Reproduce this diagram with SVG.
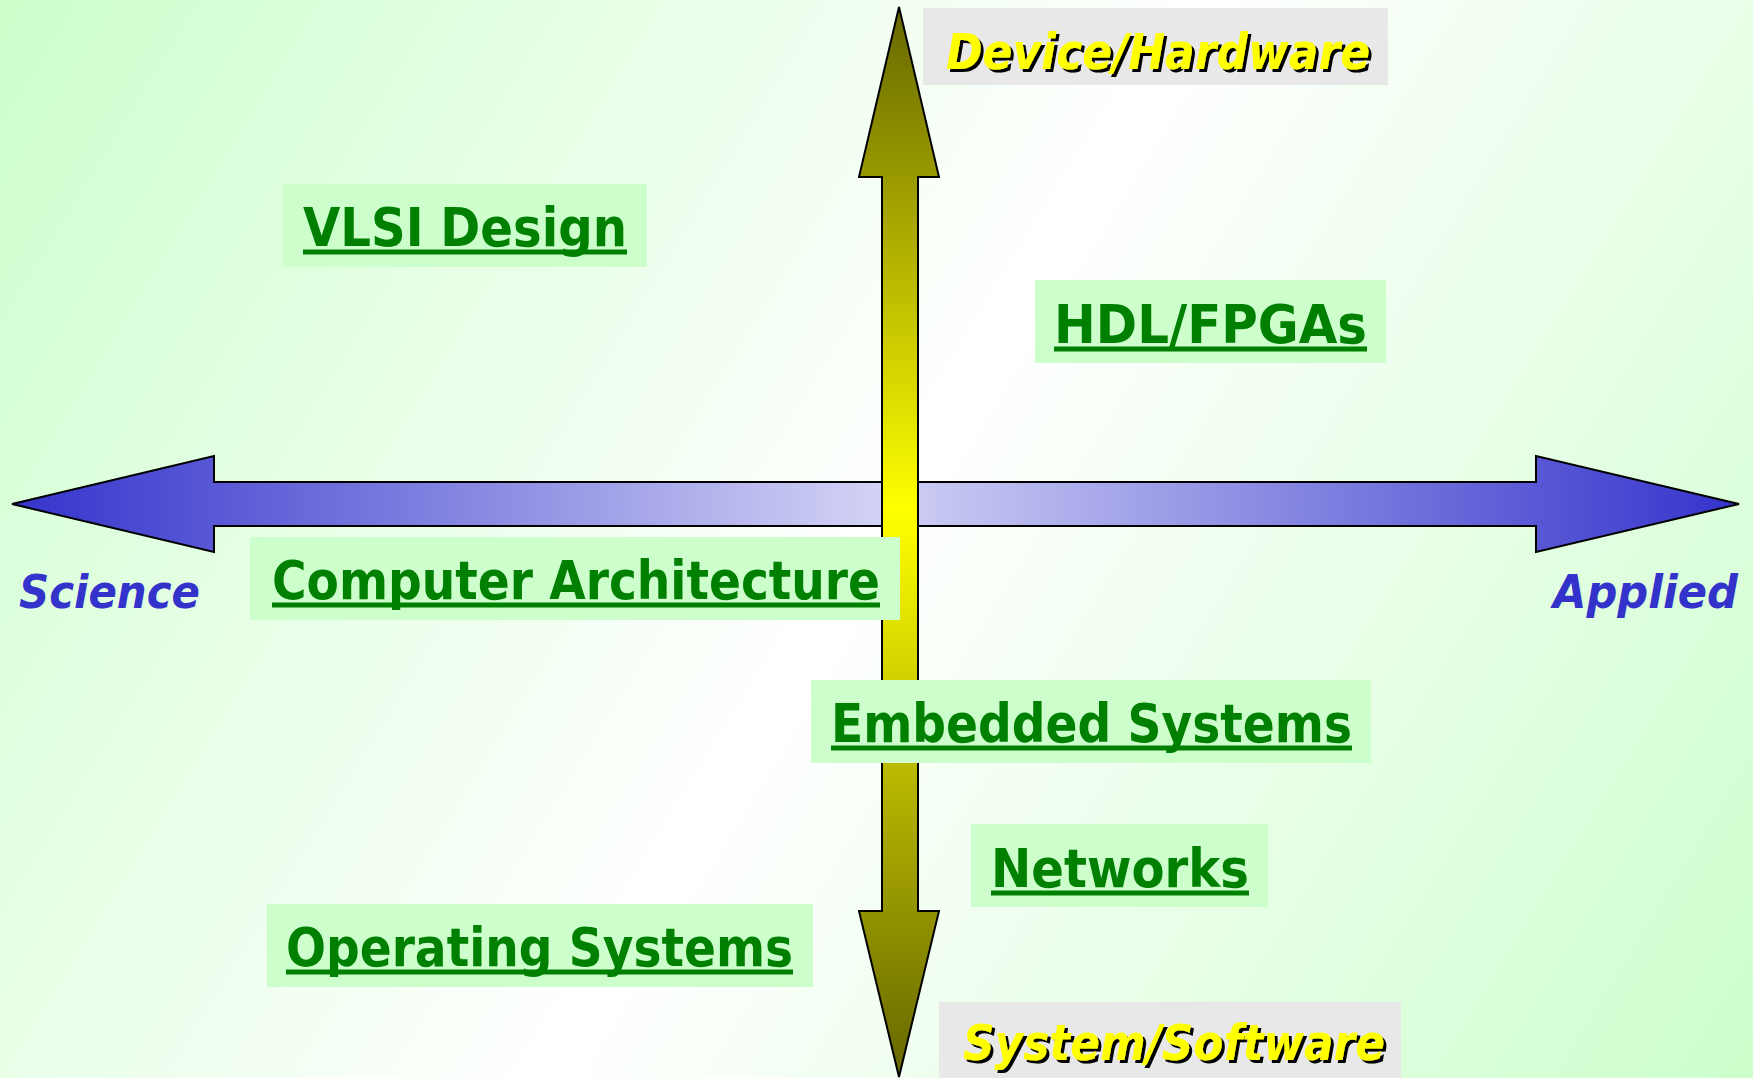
<svg xmlns="http://www.w3.org/2000/svg" width="1753" height="1078" viewBox="0 0 1753 1078">
  <defs>
    <linearGradient id="bg" x1="0" y1="0" x2="1753" y2="1078" gradientUnits="userSpaceOnUse">
      <stop offset="0" stop-color="#ccffcc"/>
      <stop offset="0.5" stop-color="#ffffff"/>
      <stop offset="1" stop-color="#ccffcc"/>
    </linearGradient>
    <linearGradient id="hgrad" x1="12" y1="0" x2="1739" y2="0" gradientUnits="userSpaceOnUse">
      <stop offset="0" stop-color="#3333cc"/>
      <stop offset="0.5" stop-color="#d2d2f5"/>
      <stop offset="1" stop-color="#3333cc"/>
    </linearGradient>
    <linearGradient id="vgrad" x1="0" y1="7" x2="0" y2="1077" gradientUnits="userSpaceOnUse">
      <stop offset="0" stop-color="#666600"/>
      <stop offset="0.47" stop-color="#ffff00"/>
      <stop offset="1" stop-color="#666600"/>
    </linearGradient>
    <filter id="shadow" x="-5%" y="-20%" width="110%" height="150%">
      <feDropShadow dx="3" dy="3" stdDeviation="0" flood-color="#000000" flood-opacity="1"/>
    </filter>
  </defs>
  <style>
    .arrow { stroke: #000000; stroke-width: 2; stroke-linejoin: miter; }
    .box { fill: #ccffcc; }
    .lbl { font-family: "DejaVu Sans", Verdana, sans-serif; font-weight: bold; font-size: 54px; fill: #008000; }
    .ul { stroke: #008000; stroke-width: 5; }
    .axis { font-family: "DejaVu Sans", Verdana, sans-serif; font-weight: bold; font-style: italic; font-size: 46px; fill: #3333cc; }
    .dir { font-family: "DejaVu Sans", Verdana, sans-serif; font-weight: bold; font-style: italic; font-size: 50px; fill: #ffff00; filter: url(#shadow); }
    .gbox { fill: #e8e8e8; }
  </style>

  <rect x="0" y="0" width="1753" height="1078" fill="url(#bg)"/>

  <g id="connectors">
    <polygon id="axis-horizontal" class="arrow" fill="url(#hgrad)" points="12,504 214,456 214,482 1536,482 1536,456 1739,504 1536,552 1536,526 214,526 214,552"/>
    <polygon id="axis-vertical" class="arrow" fill="url(#vgrad)" points="899,7 939,177 918,177 918,911 939,911 899,1077 859,911 882,911 882,177 859,177"/>
  </g>

  <g id="label-science">
    <text class="axis" x="19" y="608" textLength="181" lengthAdjust="spacingAndGlyphs">Science</text>
  </g>
  <g id="label-applied">
    <text class="axis" x="1553" y="608" textLength="185" lengthAdjust="spacingAndGlyphs">Applied</text>
  </g>

  <g id="label-device-hardware">
    <rect class="gbox" x="923" y="8" width="465" height="77"/>
    <text class="dir" x="946" y="69" textLength="424" lengthAdjust="spacingAndGlyphs">Device/Hardware</text>
  </g>
  <g id="label-system-software">
    <rect class="gbox" x="939" y="1002" width="462" height="76"/>
    <text class="dir" x="963" y="1060" textLength="422" lengthAdjust="spacingAndGlyphs">System/Software</text>
  </g>

  <g id="node-vlsi">
    <rect class="box" x="283" y="184" width="364" height="83"/>
    <text class="lbl" x="303" y="246" textLength="324" lengthAdjust="spacingAndGlyphs">VLSI Design</text>
    <line class="ul" x1="303" y1="252" x2="627" y2="252"/>
  </g>
  <g id="node-hdl">
    <rect class="box" x="1035" y="280" width="351" height="83"/>
    <text class="lbl" x="1054" y="343" textLength="313" lengthAdjust="spacingAndGlyphs">HDL/FPGAs</text>
    <line class="ul" x1="1054" y1="349" x2="1367" y2="349"/>
  </g>
  <g id="node-computer-architecture">
    <rect class="box" x="250" y="537" width="650" height="83"/>
    <text class="lbl" x="272" y="599" textLength="608" lengthAdjust="spacingAndGlyphs">Computer Architecture</text>
    <line class="ul" x1="272" y1="605" x2="880" y2="605"/>
  </g>
  <g id="node-embedded">
    <rect class="box" x="811" y="680" width="560" height="83"/>
    <text class="lbl" x="831" y="742" textLength="521" lengthAdjust="spacingAndGlyphs">Embedded Systems</text>
    <line class="ul" x1="831" y1="748" x2="1352" y2="748"/>
  </g>
  <g id="node-networks">
    <rect class="box" x="971" y="824" width="297" height="83"/>
    <text class="lbl" x="991" y="887" textLength="258" lengthAdjust="spacingAndGlyphs">Networks</text>
    <line class="ul" x1="991" y1="893" x2="1249" y2="893"/>
  </g>
  <g id="node-operating-systems">
    <rect class="box" x="267" y="904" width="546" height="83"/>
    <text class="lbl" x="286" y="966" textLength="507" lengthAdjust="spacingAndGlyphs">Operating Systems</text>
    <line class="ul" x1="286" y1="972" x2="793" y2="972"/>
  </g>
</svg>
